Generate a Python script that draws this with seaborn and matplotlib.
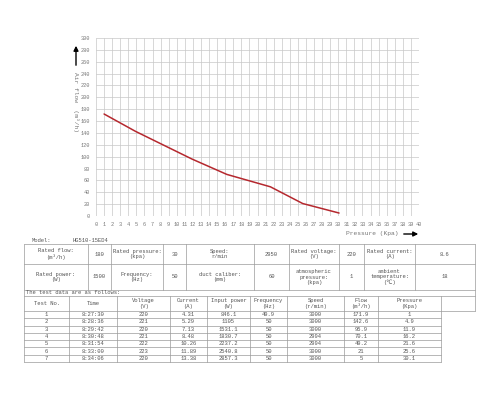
import numpy as np
import matplotlib
matplotlib.use("Agg")
import matplotlib.pyplot as plt
import seaborn as sns
from matplotlib.patches import FancyArrowPatch

# Datos de la prueba (curva y tabla)
test_no = [1, 2, 3, 4, 5, 6, 7]
times = ["8:27:30", "8:28:36", "8:29:42", "8:30:48", "8:31:54", "8:33:00", "8:34:06"]
voltage = ["220", "221", "220", "221", "222", "223", "220"]
current = ["4.31", "5.29", "7.13", "8.48", "10.26", "11.89", "13.38"]
input_power = ["846.1", "1105", "1531.1", "1830.7", "2237.2", "2540.8", "2857.3"]
frequency = ["49.9", "50", "50", "50", "50", "50", "50"]
speed = ["3000", "3000", "3000", "2994", "2994", "3000", "3000"]
flow = [171.9, 142.6, 95.9, 70.1, 49.2, 21, 5]
pressure = [1, 4.9, 11.9, 16.2, 21.6, 25.6, 30.1]

rated_row1 = ["Rated flow:\n(m³/h)", "180", "Rated pressure:\n(kpa)", "30", "Speed:\nr/min",
              "2950", "Rated voltage:\n(V)", "220", "Rated current:\n(A)", "8.6"]
rated_row2 = ["Rated power:\n(W)", "1500", "Frequency:\n(Hz)", "50", "duct caliber:\n(mm)",
              "60", "atmospheric\npressure:\n(kpa)", "1", "ambient\ntemperature:\n(℃)", "18"]
headers = ["Test No.", "Time", "Voltage\n(V)", "Current\n(A)", "Input power\n(W)",
           "Frequency\n(Hz)", "Speed\n(r/min)", "Flow\n(m³/h)", "Pressure\n(Kpa)", ""]

sns.set_style("white")
plt.rcParams['font.family'] = ['Liberation Mono', 'DejaVu Sans']

fig = plt.figure(figsize=(5, 4), dpi=100)

# --- Curva ---
ax = fig.add_axes([0.192, 0.46, 0.646, 0.445])
sns.lineplot(x=pressure, y=flow, ax=ax, color="#b5282e", lw=1.1)
ax.set_xlim(0, 40)
ax.set_ylim(0, 300)
ax.set_xticks(range(0, 41))
ax.set_yticks(range(0, 301, 20))
ax.grid(True, color="#c8c8c8", lw=0.5)
for s in ax.spines.values():
    s.set_visible(False)
ax.tick_params(labelsize=3.8, labelcolor="#777777", length=1.5, color="#aaaaaa", pad=3)

# --- Tabla en coordenadas de pixel ---
tax = fig.add_axes([0, 0, 1, 1])
tax.set_xlim(0, 500)
tax.set_ylim(400, 0)
tax.axis("off")

# etiquetas de ejes con flechas
tax.add_patch(FancyArrowPatch((76, 68), (76, 43), arrowstyle="-|>", color="black",
                              lw=1.0, mutation_scale=7))
tax.text(76, 72, "Air flow  (m³/h)", rotation=270, ha="center", va="top",
         fontsize=4.5, color="#777777")
tax.text(398, 234, "Pressure (Kpa)", ha="right", va="center", fontsize=4.5, color="#777777")
tax.add_patch(FancyArrowPatch((401, 234), (421, 234), arrowstyle="-|>", color="black",
                              lw=1.0, mutation_scale=7))

lc = "#9a9a9a"
tc = "#555555"
fs = 4.0

tax.text(32, 240, "Model:", fontsize=fs, color=tc, va="center")
tax.text(73, 240, "HG510-15ED4", fontsize=fs, color=tc, va="center")

rated_cols = [24, 88, 111, 163, 186, 254, 289, 339, 364, 415, 475]
head_cols = [24, 69, 117, 170, 207, 250, 287, 344, 378, 441, 475]
rows_y = [244, 264, 290]


def hline(y, x0, x1):
    tax.plot([x0, x1], [y, y], color=lc, lw=0.5)


def vline(x, y0, y1):
    tax.plot([x, x], [y0, y1], color=lc, lw=0.5)


for y in [244, 264, 290, 296, 311]:
    hline(y, 24, 475)
vline(24, 244, 362)
vline(475, 244, 311)
for x in rated_cols[1:-1]:
    vline(x, 244, 290)
for r, cells in enumerate([rated_row1, rated_row2]):
    y0, y1 = rows_y[r], rows_y[r + 1]
    for c, txt in enumerate(cells):
        x0, x1 = rated_cols[c], rated_cols[c + 1]
        tax.text((x0 + x1) / 2, (y0 + y1) / 2, txt, ha="center", va="center",
                 fontsize=fs, color=tc, linespacing=1.1)

tax.text(26, 293, "The test data are as follows:", fontsize=fs, color=tc, va="center")

for x in head_cols[1:-1]:
    vline(x, 296, 362)
for c, txt in enumerate(headers):
    tax.text((head_cols[c] + head_cols[c + 1]) / 2, 303.5, txt, ha="center", va="center",
             fontsize=fs, color=tc, linespacing=1.1)

data_cols = [test_no, times, voltage, current, input_power, frequency, speed, flow, pressure]
row_h = (362 - 311) / 7
for i in range(7):
    yt = 311 + row_h * (i + 1)
    hline(yt, 24, 441)
    for c, col in enumerate(data_cols):
        tax.text((head_cols[c] + head_cols[c + 1]) / 2, yt - row_h / 2, str(col[i]),
                 ha="center", va="center", fontsize=fs, color=tc)

fig.savefig("out.png", dpi=100, facecolor="white")
